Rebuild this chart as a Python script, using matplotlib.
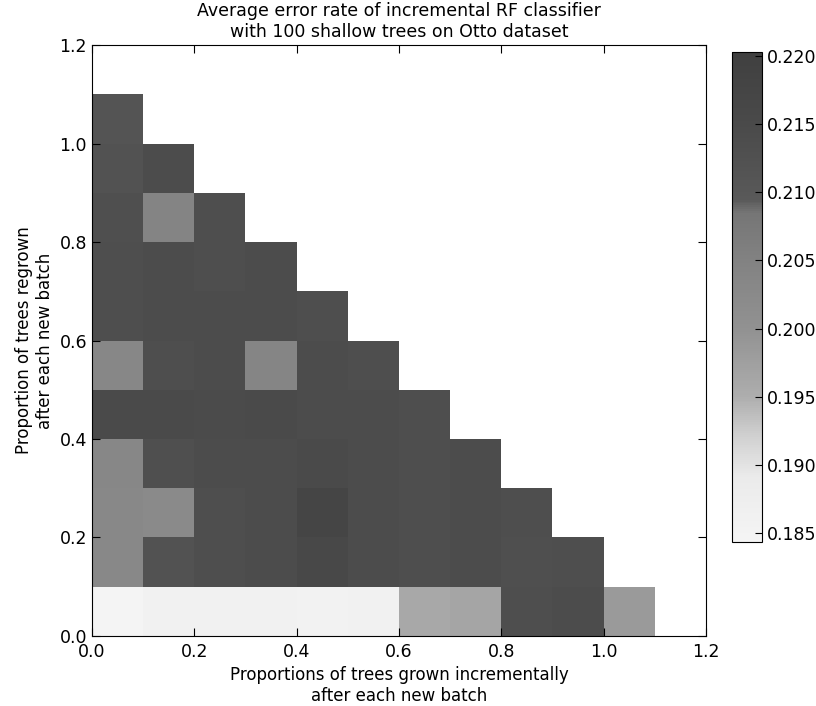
import numpy as np
import matplotlib
matplotlib.use("Agg")
import matplotlib.pyplot as plt
from matplotlib.colors import LinearSegmentedColormap

# error rate per cell: rows = proportion regrown (0.0, 0.1, ...), cols = proportion grown incrementally
row_00 = [0.1845, 0.1860, 0.1862, 0.1860, 0.1858, 0.1862, 0.1960, 0.1965, 0.2135, 0.2140, 0.1985]
row_01 = [0.2030, 0.2120, 0.2135, 0.2140, 0.2160, 0.2140, 0.2135, 0.2140, 0.2130, 0.2135]
row_02 = [0.2030, 0.2025, 0.2135, 0.2140, 0.2175, 0.2140, 0.2135, 0.2140, 0.2135]
row_03 = [0.2035, 0.2130, 0.2140, 0.2140, 0.2150, 0.2140, 0.2135, 0.2140]
row_04 = [0.2150, 0.2150, 0.2145, 0.2150, 0.2140, 0.2140, 0.2135]
row_05 = [0.2035, 0.2135, 0.2140, 0.2040, 0.2140, 0.2135]
row_06 = [0.2135, 0.2140, 0.2140, 0.2140, 0.2135]
row_07 = [0.2135, 0.2140, 0.2135, 0.2140]
row_08 = [0.2130, 0.2045, 0.2135]
row_09 = [0.2120, 0.2140]
row_10 = [0.2115]
rows = [row_00, row_01, row_02, row_03, row_04, row_05,
        row_06, row_07, row_08, row_09, row_10]

cbar_ticks = [0.185, 0.190, 0.195, 0.200, 0.205, 0.210, 0.215, 0.220]
axis_ticks = [0.0, 0.2, 0.4, 0.6, 0.8, 1.0, 1.2]

vmin, vmax = 0.1843, 0.2203

# grayscale reproduction of the printed colour map
gray_stops = [(0.1843, 0.96), (0.1890, 0.92), (0.1920, 0.82), (0.1950, 0.68),
              (0.2000, 0.57), (0.2050, 0.51), (0.2085, 0.46), (0.2095, 0.35),
              (0.2150, 0.29), (0.2203, 0.25)]
cmap = LinearSegmentedColormap.from_list(
    "printed", [((v - vmin) / (vmax - vmin), (g, g, g)) for v, g in gray_stops])

plt.rcParams['font.family'] = 'DejaVu Sans'
plt.rcParams['xtick.direction'] = 'in'
plt.rcParams['ytick.direction'] = 'in'

n = len(rows)
grid = np.full((n, n), np.nan)
for j, r in enumerate(rows):
    grid[j, :len(r)] = r
grid = np.ma.masked_invalid(grid)
edges = np.arange(n + 1) / 10.0

fig = plt.figure(figsize=(8.16, 7.06), dpi=100)
ax = fig.add_axes([0.1127, 0.0992, 0.7525, 0.8370])
mesh = ax.pcolormesh(edges, edges, grid, cmap=cmap, vmin=vmin, vmax=vmax)
ax.set_xlim(0, 1.2)
ax.set_ylim(0, 1.2)
ax.set_xticks(axis_ticks)
ax.set_yticks(axis_ticks)
ax.tick_params(labelsize=12.5, top=True, right=True, length=6)
ax.tick_params(axis='x', pad=5)
ax.set_xlabel('Proportions of trees grown incrementally\nafter each new batch', fontsize=12)
ax.set_ylabel('Proportion of trees regrown\nafter each new batch', fontsize=12)
ax.set_title('Average error rate of incremental RF classifier\nwith 100 shallow trees on Otto dataset',
             fontsize=12.5, pad=6)

cax = fig.add_axes([0.897, 0.232, 0.037, 0.694])
cb = fig.colorbar(mesh, cax=cax, ticks=cbar_ticks)
cb.ax.tick_params(labelsize=12.5, direction='in', length=5)
cb.ax.set_yticklabels([f"{t:.3f}" for t in cbar_ticks])

fig.savefig('out.png', dpi=100, facecolor='white')
